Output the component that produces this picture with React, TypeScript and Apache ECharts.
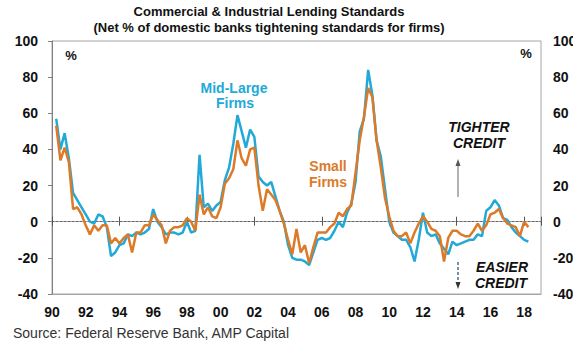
import React, { useEffect, useRef } from "react";
import * as echarts from "echarts";

const FONT = '"Liberation Sans", Arial, Helvetica, sans-serif';

const titleLine1 = "Commercial & Industrial Lending Standards";
const titleLine2 = "(Net % of domestic banks tightening standards for firms)";
const sourceText = "Source: Federal Reserve Bank, AMP Capital";

// Quarterly survey, first observation 1990 Q2
const firstYear = 1990;
const firstQuarter = 2;

// Net % tightening – large & middle-market firms
const midLarge = [
  57, 40, 49, 35, 16, 12, 8, 4, 0, -1,
  4, 3, -3, -19, -17, -13, -12, -7, -8, -6,
  -7, -6, -4, 7, 0, -3, -7, -6, -6, -7,
  -6, 0, -6, -5, 37, 8, 10, 6, 9, 11,
  23, 30, 43, 59, 50, 41, 51, 47, 25, 22,
  20, 22, 14, 6, 0, -13, -20, -21, -21, -22,
  -24, -17, -10, -9, -10, -9, -5, 0, -3, 5,
  10, 22, 50, 57, 84, 70, 45, 36, 18, 0,
  -6, -8, -10, -10, -14, -22, -10, 5, -6, -8,
  -7, -12, -15, -18, -11, -13, -12, -11, -10, -10,
  -7, -8, 6, 8, 12, 9, 2, 1, -3, -6,
  -8, -10, -11,
];

// Net % tightening – small firms
const smallFirms = [
  53, 34, 41, 33, 7, 8, 4, -2, -7, -2,
  -5, -2, -2, -12, -9, -12, -9, -7, -17, -6,
  -6, -2, -2, 4, 1, -2, -12, -5, -3, -3,
  -2, 2, 0, -5, 15, 4, 8, 3, 2, 8,
  21, 24, 29, 45, 35, 31, 40, 41, 20, 6,
  18, 15, 12, 6, -1, -10, -18, -4, -17, -13,
  -23, -14, -6, -6, -6, -3, -1, 5, 3, 7,
  9, 27, 45, 58, 74, 69, 45, 30, 13, 3,
  -5, -8, -8, -6, -12, -6, -1, 3, 0, -4,
  -5, -8, -22, -9, -5, -5, -7, -8, -8, -5,
  -1, -5, -2, 4, 5, 7, 2, -1, -2, -3,
  -8, 0, -3,
];

const quarterTimes = midLarge.map((_, i) => firstYear + (firstQuarter - 1 + i) / 4);

const xMin = 1990;
const xMax = 2019;
const yMin = -40;
const yMax = 100;
const yStep = 20;

const BLUE = "#22a9d8";
const ORANGE = "#dc7a28";

export default function App() {
  const ref = useRef<HTMLDivElement>(null);

  useEffect(() => {
    if (!ref.current) return;
    document.body.style.margin = "0";
    const chart = echarts.init(ref.current, undefined, { renderer: "svg" });

    const axisLabelStyle = {
      fontFamily: FONT,
      fontWeight: "bold" as const,
      fontSize: 14,
      color: "#111",
    };

    const textEl = (
      text: string,
      x: number,
      y: number,
      opts: Record<string, any> = {}
    ) => ({
      type: "text",
      x,
      y,
      silent: true,
      style: {
        text,
        fontFamily: FONT,
        fontSize: 13,
        fontWeight: "bold",
        fill: "#111",
        textAlign: "center",
        textVerticalAlign: "middle",
        ...opts,
      },
    });

    chart.setOption({
      animation: false,
      grid: {
        left: 52,
        right: 32,
        top: 41,
        bottom: 57,
        outerBoundsMode: "none",
        containLabel: false,
        show: true,
        borderColor: "#a6a6a6",
        borderWidth: 1,
        backgroundColor: "transparent",
      },
      xAxis: [
        {
          type: "value",
          min: xMin,
          max: xMax,
          interval: 2,
          position: "bottom",
          axisLine: { onZero: false, lineStyle: { color: "#a6a6a6", width: 1 } },
          axisTick: { show: false },
          splitLine: { show: false },
          axisLabel: {
            ...axisLabelStyle,
            margin: 11,
            showMaxLabel: false,
            formatter: (v: number) =>
              v >= xMax ? "" : String(Math.round(v) % 100).padStart(2, "0"),
          },
        },
        {
          type: "value",
          min: xMin,
          max: xMax,
          interval: 4,
          position: "bottom",
          axisLine: {
            onZero: true,
            onZeroAxisIndex: 0,
            lineStyle: { color: "#666", width: 1, type: [2, 2] },
          },
          axisTick: { show: true, length: 4, lineStyle: { color: "#555" } },
          axisLabel: { show: false },
          splitLine: { show: false },
        },
        {
          type: "value",
          min: xMin,
          max: xMax,
          interval: 4,
          position: "bottom",
          axisLine: {
            onZero: true,
            onZeroAxisIndex: 0,
            lineStyle: { color: "#666", width: 1, type: [2, 2] },
          },
          axisTick: { show: true, inside: true, length: 5, lineStyle: { color: "#555" } },
          axisLabel: { show: false },
          splitLine: { show: false },
        },
      ],
      yAxis: [
        {
          type: "value",
          min: yMin,
          max: yMax,
          interval: yStep,
          position: "left",
          axisLine: { show: true, lineStyle: { color: "#7f7f7f", width: 1 } },
          axisTick: { show: true, length: 4, lineStyle: { color: "#7f7f7f" } },
          splitLine: { show: false },
          axisLabel: { ...axisLabelStyle, margin: 14 },
        },
        {
          type: "value",
          min: yMin,
          max: yMax,
          interval: yStep,
          position: "right",
          axisLine: { show: false },
          axisTick: { show: false },
          splitLine: { show: false },
          axisLabel: { ...axisLabelStyle, margin: 12 },
        },
      ],
      series: [
        {
          name: "Mid-Large Firms",
          type: "line",
          xAxisIndex: 0,
          yAxisIndex: 0,
          symbol: "none",
          lineStyle: { color: BLUE, width: 2.5 },
          data: quarterTimes.map((t, i) => [t, midLarge[i]]),
          z: 3,
        },
        {
          name: "Small Firms",
          type: "line",
          xAxisIndex: 0,
          yAxisIndex: 0,
          symbol: "none",
          lineStyle: { color: ORANGE, width: 2.5 },
          data: quarterTimes.map((t, i) => [t, smallFirms[i]]),
          z: 4,
        },
      ],
      graphic: [
        textEl(titleLine1, 269, 11, { fontSize: 13 }),
        textEl(titleLine2, 269, 27, { fontSize: 13 }),
        textEl("%", 71, 55, { fontSize: 13 }),
        textEl("%", 526, 53, { fontSize: 13 }),
        textEl("Mid-Large", 234, 88, { fontSize: 14, fill: BLUE }),
        textEl("Firms", 235, 103, { fontSize: 14, fill: BLUE }),
        textEl("Small", 328, 166, { fontSize: 14, fill: ORANGE }),
        textEl("Firms", 328, 182, { fontSize: 14, fill: ORANGE }),
        textEl("TIGHTER", 479, 127, { fontSize: 14, fontStyle: "italic" }),
        textEl("CREDIT", 479, 143, { fontSize: 14, fontStyle: "italic" }),
        textEl("EASIER", 502, 267, { fontSize: 14, fontStyle: "italic" }),
        textEl("CREDIT", 501, 283, { fontSize: 14, fontStyle: "italic" }),
        {
          type: "line",
          silent: true,
          shape: { x1: 458, y1: 197, x2: 458, y2: 164 },
          style: { stroke: "#666", lineWidth: 1 },
        },
        {
          type: "polygon",
          silent: true,
          shape: { points: [[458, 159], [455.5, 166], [460.5, 166]] },
          style: { fill: "#555" },
        },
        {
          type: "line",
          silent: true,
          shape: { x1: 458, y1: 262, x2: 458, y2: 283 },
          style: { stroke: "#4a6d96", lineWidth: 1.5, lineDash: [3, 2] },
        },
        {
          type: "polygon",
          silent: true,
          shape: { points: [[458, 289], [455.5, 282], [460.5, 282]] },
          style: { fill: "#333" },
        },
        textEl(sourceText, 13, 333, {
          fontSize: 14,
          fontWeight: "normal",
          fill: "#333",
          textAlign: "left",
        }),
      ],
    });

    return () => chart.dispose();
  }, []);

  return <div ref={ref} style={{ width: 573, height: 351 }} />;
}
